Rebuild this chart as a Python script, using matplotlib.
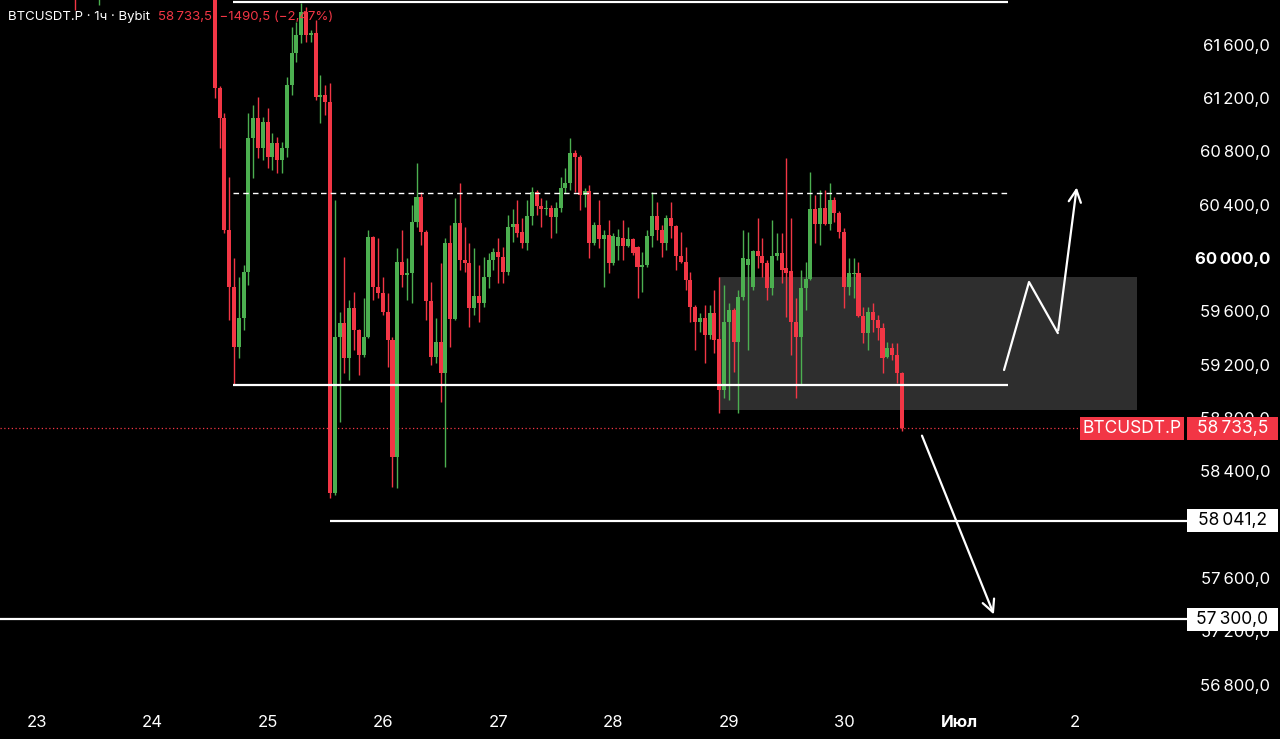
import numpy as np
import matplotlib.pyplot as plt
from matplotlib.patches import Rectangle

plt.rcParams['font.family'] = ['Inter', 'DejaVu Sans']

# hourly candles, x = hours since 23 Jun 00:00
hours = np.arange(37, 181)
opens = [62000, 61285, 61060, 60220, 59792, 59342, 59560, 59905, 60910, 61060,
         60835, 61030, 60767, 60872, 60745, 60835, 61307, 61547, 61682, 61855,
         61682, 61697, 61217, 61232, 61180, 58247, 59417, 59522, 59260, 59635,
         59470, 59282, 59417, 60167, 59792, 59747, 59605, 59395, 58517, 59980,
         59882, 59897, 60280, 60467, 60205, 59687, 59267, 59380, 59147, 60122,
         59552, 60272, 59995, 59972, 59635, 59725, 59672, 59867, 59995, 60055,
         60017, 59905, 60242, 60265, 60205, 60122, 60325, 60505, 60400, 60377,
         60385, 60317, 60385, 60535, 60572, 60797, 60767, 60482, 60512, 60122,
         60257, 60152, 60182, 59972, 60100, 60160, 60100, 60152, 60092, 59942,
         59960, 60175, 60325, 60220, 60122, 60310, 60250, 60025, 59980, 59845,
         59642, 59530, 59560, 59432, 59597, 59402, 59020, 59530, 59620, 59380,
         59717, 59960, 59790, 60062, 60025, 59972, 59785, 60025, 60047, 59935,
         59912, 59530, 59417, 59785, 59852, 60377, 60265, 60385, 60265, 60445,
         60347, 60205, 59792, 59890, 59897, 59575, 59447, 59605, 59545, 59485,
         59267, 59335, 59282, 59147]
highs = [62050, 61300, 61100, 60617, 60010, 59867, 59957, 61097, 61157, 61217,
         61067, 61135, 60947, 60917, 60880, 61367, 61742, 61780, 61920, 61895,
         61720, 61795, 61382, 61307, 61320, 60445, 59605, 60017, 59695, 59755,
         59480, 59710, 60220, 60175, 60160, 59870, 59747, 59417, 60085, 60220,
         60010, 60407, 60722, 60505, 60220, 59830, 59560, 59972, 60160, 60257,
         60460, 60572, 60242, 60122, 60085, 59957, 60017, 60047, 60085, 60160,
         60092, 60332, 60377, 60445, 60310, 60445, 60542, 60520, 60460, 60445,
         60407, 60430, 60617, 60685, 60910, 60820, 60782, 60535, 60557, 60280,
         60445, 60220, 60295, 60197, 60230, 60295, 60242, 60160, 60100, 60055,
         60220, 60505, 60430, 60257, 60332, 60430, 60257, 60205, 60092, 59905,
         59657, 59597, 59657, 59657, 59770, 59867, 59807, 59672, 59635, 59770,
         60220, 60205, 60070, 60310, 60160, 59995, 60295, 60197, 60197, 60760,
         60310, 59710, 59920, 59980, 60655, 60482, 60520, 60520, 60572, 60467,
         60360, 60235, 60010, 60010, 59980, 59640, 59640, 59672, 59582, 59522,
         59380, 59372, 59372, 59155]
lows = [61210, 60835, 60200, 59545, 59057, 59260, 59470, 59807, 60610, 60760,
        60745, 60685, 60670, 60647, 60647, 60767, 61232, 61480, 61622, 61630,
        61630, 61195, 61022, 61082, 58210, 58230, 58780, 59147, 59095, 59320,
        59132, 59267, 59410, 59695, 59710, 59582, 59192, 58292, 58285, 59792,
        59695, 59672, 60242, 60107, 59545, 59207, 59222, 58930, 58442, 59342,
        59545, 59920, 59905, 59492, 59582, 59530, 59642, 59785, 59920, 59822,
        59822, 59882, 60130, 60167, 60085, 60070, 60257, 60332, 60242, 60332,
        60160, 60197, 60355, 60497, 60520, 60505, 60370, 60392, 60010, 60107,
        60085, 59792, 59897, 59960, 59995, 59995, 60092, 60032, 59710, 59755,
        59942, 60092, 60145, 60017, 60070, 60160, 59920, 59972, 59770, 59530,
        59320, 59455, 59222, 59400, 59297, 58847, 58960, 58945, 59155, 58847,
        59695, 59320, 59770, 59935, 59867, 59695, 59732, 59995, 59822, 59567,
        59282, 58960, 59057, 59620, 59845, 60122, 60107, 60257, 60220, 60280,
        60160, 59635, 59732, 59710, 59567, 59372, 59320, 59455, 59395, 59147,
        59260, 59245, 59072, 58710]
closes = [61285, 61060, 60220, 59792, 59342, 59560, 59905, 60910, 61060, 60835,
          61030, 60767, 60872, 60745, 60835, 61307, 61547, 61682, 61855, 61682,
          61697, 61217, 61232, 61180, 58247, 59417, 59522, 59260, 59635, 59470,
          59282, 59417, 60167, 59792, 59747, 59605, 59395, 58517, 59980, 59882,
          59897, 60280, 60467, 60205, 59687, 59267, 59380, 59147, 60122, 59552,
          60272, 59995, 59972, 59635, 59725, 59672, 59867, 59995, 60055, 60017,
          59905, 60242, 60265, 60197, 60122, 60325, 60505, 60400, 60377, 60385,
          60317, 60385, 60535, 60572, 60797, 60767, 60482, 60512, 60122, 60257,
          60152, 60182, 59972, 60175, 60167, 60100, 60152, 60047, 59942, 59960,
          60175, 60325, 60220, 60122, 60310, 60250, 60025, 59980, 59845, 59642,
          59530, 59560, 59432, 59597, 59395, 59020, 59530, 59620, 59380, 59717,
          60010, 60000, 60062, 60025, 59972, 59785, 60025, 60047, 59920, 59897,
          59530, 59417, 59785, 59852, 60377, 60265, 60385, 60265, 60445, 60347,
          60205, 59792, 59897, 59900, 59575, 59447, 59605, 59545, 59485, 59260,
          59335, 59282, 59147, 58733.5]

# two earlier candles whose lower wicks poke in at the top edge
early_hours = [8, 13]
early_ohlc = [(62300, 62400, 61870, 62200), (62100, 62300, 61910, 62250)]

# drawn levels
top_level = 61930
dashed_level = 60500
support_level = 59058
low_level = 58041.2
target_level = 57300
last_price = 58733.5
zone_top, zone_bottom = 59868, 58870
zone_start, zone_end = 142, 229

# drawn arrows (hour, price)
zig_h = [201.3, 206.5, 212.5, 216.5]
zig_p = [59170, 59830, 59447, 60560]
down_h = [184, 199.4]
down_p = [58697, 57317]

# 58000 sits fully under the 58041,2 box, so it is not shown
price_ticks = [56800, 57200, 57600, 58400, 58800, 59200, 59600,
               60000, 60400, 60800, 61200, 61600]
day_hours = [0, 24, 48, 72, 96, 120, 144, 168, 192, 216]
day_labels = ['23', '24', '25', '26', '27', '28', '29', '30', 'Июл', '2']

GREEN = '#4caf50'
RED = '#f23645'

W, H = 1280, 739
fig = plt.figure(figsize=(W / 100, H / 100), dpi=100, facecolor='black')
ax = fig.add_axes([0, 0, 1, 1])
ax.set_facecolor('black')
ax.set_axis_off()

px_per_h = 4.804
x0_px = 37
ax.set_xlim(-x0_px / px_per_h, (W - x0_px) / px_per_h)
ax.set_ylim(61945 - H * 7.5, 61945)


def hx(xpx):
    return (xpx - x0_px) / px_per_h


def fmt(v):
    s = f'{v:,.1f}'.replace(',', '\u2009').replace('.', ',')
    return s


# zone
ax.add_patch(Rectangle((zone_start, zone_bottom), zone_end - zone_start,
                       zone_top - zone_bottom, color='#2e2e2e', zorder=1, lw=0))

# candles
o = np.array(opens, float)
c = np.array(closes, float)
hi = np.array(highs, float)
lo = np.array(lows, float)
cols = np.where(c >= o, GREEN, RED)
ax.vlines(hours, lo, hi, colors=cols, lw=1.0, zorder=3)
bottom = np.minimum(o, c)
height = np.maximum(np.abs(c - o), 8)
ax.bar(hours, height, bottom=bottom, width=0.84, color=cols, zorder=4, lw=0)
for h_, (eo, eh, el, ec) in zip(early_hours, early_ohlc):
    col = GREEN if ec >= eo else RED
    ax.vlines(h_, el, eh, colors=col, lw=1.0, zorder=3)
    ax.bar(h_, abs(ec - eo), bottom=min(eo, ec), width=0.84, color=col, zorder=4)

# levels
lx0, lx1 = hx(233), hx(1008)
ax.hlines(top_level, lx0, lx1, colors='white', lw=1.6, zorder=5)
ax.hlines(dashed_level, lx0, lx1, colors='white', lw=1.0, linestyles=(0, (4, 3)), zorder=5)
ax.hlines(support_level, lx0, lx1, colors='white', lw=1.6, zorder=5)
ax.hlines(low_level, hx(330), hx(1187), colors='white', lw=1.6, zorder=5)
ax.hlines(target_level, hx(0), hx(1187), colors='white', lw=1.6, zorder=5)
ax.hlines(last_price, hx(0), hx(1080), colors=RED, lw=0.9, linestyles=(0, (1, 2)), zorder=2)

# arrows
ax.plot(zig_h[:3], zig_p[:3], color='white', lw=1.6, zorder=6, solid_capstyle='round')
ax.annotate('', xy=(zig_h[3], zig_p[3]), xytext=(zig_h[2], zig_p[2]),
            arrowprops=dict(arrowstyle='->', color='white', lw=1.6, mutation_scale=22),
            zorder=6)
ax.annotate('', xy=(down_h[1], down_p[1]), xytext=(down_h[0], down_p[0]),
            arrowprops=dict(arrowstyle='->', color='white', lw=1.6, mutation_scale=22),
            zorder=6)

# price scale
for p in price_ticks:
    ax.text(hx(1270), p, fmt(p), color='white', fontsize=12, ha='right', va='center',
            fontweight='bold' if p == 60000 else 'normal', zorder=7)


def box(x0, x1, price, fc, txt, tc):
    ax.add_patch(Rectangle((hx(x0), price - 11.5 * 7.5), hx(x1) - hx(x0), 23 * 7.5,
                           color=fc, zorder=8, lw=0))
    ax.text((hx(x0) + hx(x1)) / 2, price, txt, color=tc, fontsize=12.5,
            ha='center', va='center', zorder=9)


box(1187, 1278, low_level, 'white', fmt(low_level), 'black')
box(1187, 1278, target_level, 'white', fmt(target_level), 'black')
box(1080, 1184, last_price, RED, 'BTCUSDT.P', 'white')
box(1187, 1278, last_price, RED, fmt(last_price), 'white')

# date axis
for h_, lab in zip(day_hours, day_labels):
    ax.text(h_, 61945 - 722 * 7.5, lab, color='white', fontsize=12, ha='center',
            va='center', fontweight='bold' if lab == 'Июл' else 'normal', zorder=7)

# header
fig.text(8 / W, 1 - 17 / H, 'BTCUSDT.P · 1ч · Bybit', color='white', fontsize=9.5,
         ha='left', va='center', zorder=0)
fig.text(158 / W, 1 - 17 / H, '58\u2009733,5  −1490,5 (−2,47%)', color=RED, fontsize=9.5,
         ha='left', va='center', zorder=0)

fig.savefig('out.png', dpi=100, facecolor='black')
